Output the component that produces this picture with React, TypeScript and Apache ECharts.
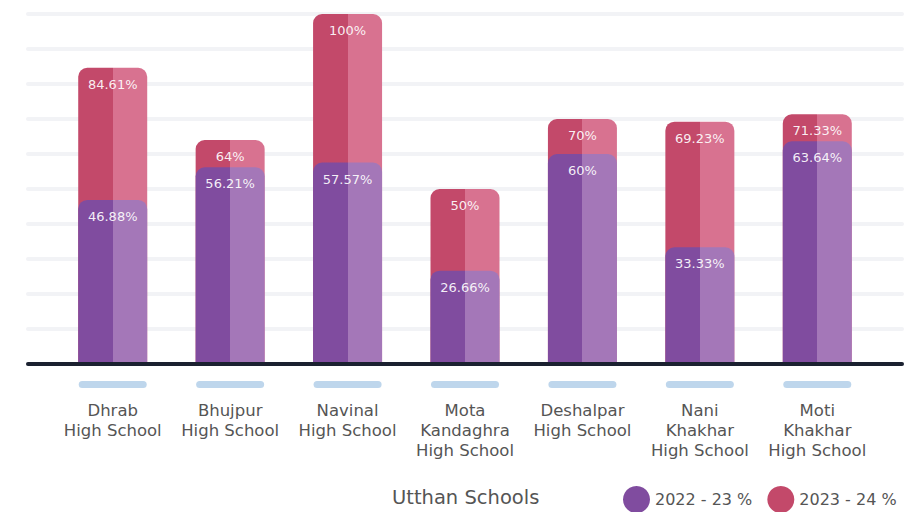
import React, { useEffect, useRef } from "react";
import * as echarts from "echarts";

const categories = [
  "Dhrab\nHigh School",
  "Bhujpur\nHigh School",
  "Navinal\nHigh School",
  "Mota\nKandaghra\nHigh School",
  "Deshalpar\nHigh School",
  "Nani\nKhakhar\nHigh School",
  "Moti\nKhakhar\nHigh School",
];
const values2022 = [46.88, 56.21, 57.57, 26.66, 60, 33.33, 63.64];
const values2023 = [84.61, 64, 100, 50, 70, 69.23, 71.33];
const seriesNames = ["2022 - 23 %", "2023 - 24 %"];
const chartTitle = "Utthan Schools";

const FONT = "DejaVu Sans";

function twoTone(dark: string, light: string) {
  return new echarts.graphic.LinearGradient(0, 0, 1, 0, [
    { offset: 0, color: dark },
    { offset: 0.5, color: dark },
    { offset: 0.5, color: light },
    { offset: 1, color: light },
  ]);
}

export default function App() {
  const ref = useRef<HTMLDivElement>(null);
  useEffect(() => {
    if (!ref.current) return;
    const chart = echarts.init(ref.current, null, { renderer: "svg" });
    const fmt = (p: any) => {
      const v = p.value;
      return (Math.round(v * 100) / 100).toString() + "%";
    };
    const labelStyle = {
      show: true,
      position: "insideTop",
      distance: 10,
      formatter: fmt,
      color: "rgba(255,255,255,0.92)",
      fontFamily: FONT,
      fontSize: 13,
    };
    chart.setOption({
      animation: false,
      textStyle: { fontFamily: FONT },
      title: {
        text: chartTitle,
        left: 387,
        top: 482,
        textStyle: { fontFamily: FONT, fontSize: 19.5, fontWeight: "normal", color: "#555555" },
      },
      legend: {
        left: 618,
        top: 481,
        icon: "circle",
        itemWidth: 27,
        itemHeight: 27,
        itemGap: 15,
        textStyle: { fontFamily: FONT, fontSize: 16, color: "#555555" },
        data: [
          { name: seriesNames[0], itemStyle: { color: "#804c9f" } },
          { name: seriesNames[1], itemStyle: { color: "#c3496a" } },
        ],
      },
      grid: [
        { left: 28, right: 5, top: 14, bottom: 148 },
        { left: 54, width: 822, top: 14, bottom: 148 },
      ],
      xAxis: [
        {
          gridIndex: 0,
          type: "category",
          data: [""],
          axisLine: { show: true, lineStyle: { color: "#1b2130", width: 4, cap: "round" } },
          axisTick: { show: false },
          axisLabel: { show: false },
          z: 5,
        },
        {
          gridIndex: 1,
          type: "category",
          data: categories,
          axisLine: { show: false },
          axisTick: { show: false },
          axisLabel: {
            margin: 17,
            interval: 0,
            formatter: (v: string) => `{pill| }\n{gap| }\n{t|${v}}`,
            rich: {
              pill: {
                width: 68,
                height: 7,
                lineHeight: 7,
                backgroundColor: "#bed6ec",
                borderRadius: 4,
                fontSize: 1,
              },
              gap: { height: 12, lineHeight: 12, fontSize: 1 },
              t: {
                fontFamily: FONT,
                fontSize: 16.5,
                lineHeight: 20,
                color: "#555555",
                align: "center",
              },
            },
          },
        },
      ],
      yAxis: [
        {
          gridIndex: 0,
          type: "value",
          min: 0,
          max: 100,
          interval: 10,
          axisLine: { show: false },
          axisTick: { show: false },
          axisLabel: { show: false },
          splitLine: { show: true, lineStyle: { color: "#f2f3f6", width: 4, cap: "round" } },
        },
        {
          gridIndex: 1,
          type: "value",
          min: 0,
          max: 100,
          interval: 10,
          show: false,
          splitLine: { show: false },
        },
      ],
      series: [
        {
          name: seriesNames[1],
          type: "bar",
          xAxisIndex: 1,
          yAxisIndex: 1,
          data: values2023,
          barWidth: 69,
          barGap: "-100%",
          itemStyle: { color: twoTone("#c3496a", "#d87290"), borderRadius: [9, 9, 0, 0] },
          label: labelStyle,
          z: 2,
        },
        {
          name: seriesNames[0],
          type: "bar",
          xAxisIndex: 1,
          yAxisIndex: 1,
          data: values2022,
          barWidth: 69,
          barGap: "-100%",
          itemStyle: { color: twoTone("#804c9f", "#a477b8"), borderRadius: [9, 9, 0, 0] },
          label: labelStyle,
          z: 3,
        },
      ],
    });
    return () => chart.dispose();
  }, []);
  return <div ref={ref} style={{ width: 907, height: 512, position: "absolute", left: 0, top: 0 }} />;
}
